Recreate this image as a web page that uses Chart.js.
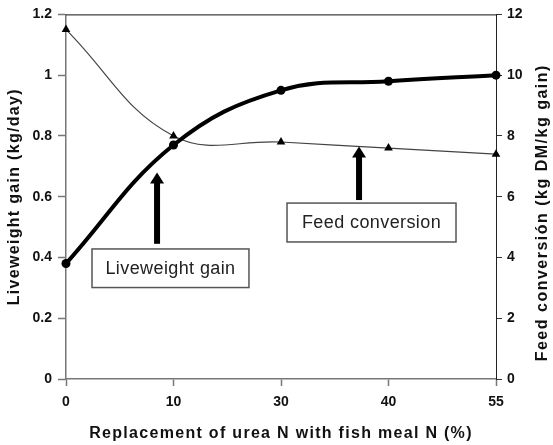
<!DOCTYPE html>
<html>
<head>
<meta charset="utf-8">
<script src="https://cdn.jsdelivr.net/npm/chart.js@4/dist/chart.umd.min.js"></script>
<style>
  html, body { margin: 0; padding: 0; background: #fff; }
  #wrap { width: 553px; height: 445px; }
</style>
</head>
<body>
<div id="wrap"><canvas id="c" width="553" height="445"></canvas></div>
<script>
// ---- data ----
const categories = ['0', '10', '30', '40', '55'];
const liveweightGain = [0.38, 0.77, 0.95, 0.98, 1.0];      // kg/day, left axis
const feedConversion = [11.5, 8.0, 7.8, 7.6, 7.4];         // kg DM/kg gain, right axis
const xTitle = 'Replacement of urea N with fish meal N (%)';
const yLeftTitle = 'Liveweight gain (kg/day)';
const yRightTitle = 'Feed conversión (kg DM/kg gain)';
const labelTexts = ['Liveweight gain', 'Feed conversion'];

// annotation placement in data space (x = category index, y = left-axis value)
const labelBoxes = [
  { x0: 0.242, x1: 1.702, y0: 0.428, y1: 0.301, ax: 0.847, tip: 0.68, base: 0.445 },
  { x0: 2.056, x1: 3.628, y0: 0.579, y1: 0.451, ax: 2.726, tip: 0.765, base: 0.589 }
];

const FONT = '"Liberation Sans", Arial, Helvetica, sans-serif';

const extras = {
  id: 'extras',
  afterDraw(chart) {
    const { ctx, chartArea: a, scales } = chart;
    const sx = scales.x, sy = scales.y;
    ctx.save();
    // top frame line
    ctx.strokeStyle = '#111';
    ctx.lineWidth = 1;
    ctx.beginPath();
    ctx.moveTo(a.left, a.top + 0.5);
    ctx.lineTo(a.right, a.top + 0.5);
    ctx.stroke();

    // axis titles
    ctx.fillStyle = '#111';
    ctx.textAlign = 'center';
    ctx.textBaseline = 'middle';
    ctx.letterSpacing = '1.3px';
    ctx.font = 'bold 16px ' + FONT;
    ctx.fillText(xTitle, (a.left + a.right) / 2, 434);

    ctx.save();
    ctx.translate(15, (a.top + a.bottom) / 2);
    ctx.rotate(-Math.PI / 2);
    ctx.fillText(yLeftTitle, 0, 0);
    ctx.restore();

    ctx.save();
    ctx.letterSpacing = '1.5px';
    ctx.font = 'bold 16px ' + FONT;
    ctx.translate(543, (a.top + a.bottom) / 2 + 16);
    ctx.rotate(-Math.PI / 2);
    ctx.fillText(yRightTitle, 0, 0);
    ctx.restore();

    // label boxes and arrows
    ctx.letterSpacing = '0.4px';
    labelBoxes.forEach((b, i) => {
      const x0 = sx.getPixelForValue(b.x0), x1 = sx.getPixelForValue(b.x1);
      const y0 = sy.getPixelForValue(b.y0), y1 = sy.getPixelForValue(b.y1);
      ctx.fillStyle = '#fff';
      ctx.fillRect(x0, y0, x1 - x0, y1 - y0);
      ctx.strokeStyle = '#555';
      ctx.lineWidth = 1.5;
      ctx.strokeRect(x0, y0, x1 - x0, y1 - y0);
      ctx.fillStyle = '#222';
      ctx.font = '18px ' + FONT;
      ctx.fillText(labelTexts[i], (x0 + x1) / 2, (y0 + y1) / 2 + 1);

      const ax = sx.getPixelForValue(b.ax);
      const tip = sy.getPixelForValue(b.tip);
      const base = sy.getPixelForValue(b.base);
      ctx.fillStyle = '#000';
      ctx.fillRect(ax - 3, tip + 9, 6, base - tip - 9);
      ctx.beginPath();
      ctx.moveTo(ax, tip);
      ctx.lineTo(ax + 7, tip + 11);
      ctx.lineTo(ax - 7, tip + 11);
      ctx.closePath();
      ctx.fill();
    });
    ctx.restore();
  }
};

new Chart(document.getElementById('c'), {
  type: 'line',
  data: {
    labels: categories,
    datasets: [
      {
        label: 'Liveweight gain',
        data: liveweightGain,
        yAxisID: 'y',
        borderColor: '#000',
        backgroundColor: '#000',
        borderWidth: 4,
        pointStyle: 'circle',
        pointRadius: 4.5,
        pointBorderWidth: 0,
        tension: 0.4,
        clip: false
      },
      {
        label: 'Feed conversion',
        data: feedConversion,
        yAxisID: 'y1',
        borderColor: '#444',
        backgroundColor: '#000',
        borderWidth: 1.2,
        pointStyle: 'triangle',
        pointRadius: 5,
        pointBorderWidth: 0,
        tension: 0.4,
        clip: false
      }
    ]
  },
  options: {
    responsive: false,
    animation: false,
    devicePixelRatio: 1,
    layout: { padding: { top: 12, left: 0, right: 0, bottom: 0 } },
    plugins: { legend: { display: false }, tooltip: { enabled: false } },
    scales: {
      x: {
        type: 'category',
        offset: false,
        afterFit(s) { s.height = 66; },
        grid: { drawOnChartArea: false, tickLength: 7, tickColor: '#777', tickWidth: 1.5, offset: false },
        border: { display: true, color: '#777', width: 1.5 },
        ticks: { color: '#111', padding: 8, font: { family: FONT, size: 14, weight: 'bold' }, maxRotation: 0 }
      },
      y: {
        position: 'left',
        min: 0, max: 1.2,
        afterFit(s) { s.width = 66; },
        grid: { drawOnChartArea: false, tickLength: 8, tickColor: '#777', tickWidth: 1.5 },
        border: { display: true, color: '#777', width: 1.5 },
        ticks: {
          stepSize: 0.2, color: '#111', padding: 6,
          font: { family: FONT, size: 14, weight: 'bold' },
          callback: (v) => String(Number(v.toFixed(1)))
        }
      },
      y1: {
        position: 'right',
        min: 0, max: 12,
        afterFit(s) { s.width = 57; },
        grid: { drawOnChartArea: false, tickLength: 6, tickColor: '#333', tickWidth: 1 },
        border: { display: true, color: '#222', width: 1 },
        ticks: { stepSize: 2, color: '#111', padding: 5, font: { family: FONT, size: 14, weight: 'bold' } }
      }
    }
  },
  plugins: [extras]
});
</script>
</body>
</html>
